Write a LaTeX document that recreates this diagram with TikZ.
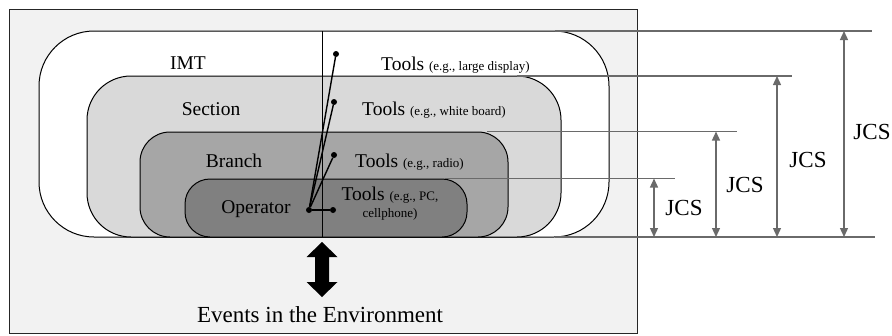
\documentclass[tikz,border=0pt]{standalone}
\usepackage{fontspec}
\setmainfont{Liberation Serif}
\usetikzlibrary{arrows.meta}
\definecolor{bgbox}{HTML}{F2F2F2}
\definecolor{secfill}{HTML}{D9D9D9}
\definecolor{brfill}{HTML}{A6A6A6}
\definecolor{opfill}{HTML}{808080}
\definecolor{dimgray}{HTML}{6A6A6A}
\newcommand{\smalltxt}[1]{{\fontsize{13}{15}\selectfont #1}}
\tikzset{
  layer/.style={draw=black, line width=1pt, inner sep=0pt, outer sep=0pt},
  lbl/.style={font=\fontsize{19.5}{23}\selectfont, inner sep=0pt},
  toollbl/.style={font=\fontsize{19.5}{23}\selectfont, inner sep=0pt, anchor=base west},
  biglbl/.style={font=\fontsize{23}{27}\selectfont, inner sep=0pt},
  dot/.style={circle, fill=black, inner sep=0pt, minimum size=6pt},
  tie/.style={line width=1.4pt, black},
  guide/.style={draw=dimgray, line width=1.3pt},
  jcsarrow/.style={draw=dimgray, line width=1.3pt, {Triangle[length=9pt,width=8pt]}-{Triangle[length=9pt,width=8pt]}, dimgray}
}
\begin{document}
\begin{tikzpicture}[x=1pt,y=-1pt]
\useasboundingbox (0,0) rectangle (892,335);
% outer environment box
\draw[fill=bgbox, draw=black!85, line width=1pt] (9,9.5) rectangle (637,333);
% nested layers
\node[layer, fill=white, rounded corners=55pt, minimum width=570pt, minimum height=206pt] (imt) at (324,134) {};
\node[layer, fill=secfill, rounded corners=44pt, minimum width=474pt, minimum height=161pt] (sec) at (324,156.5) {};
\node[layer, fill=brfill, rounded corners=30pt, minimum width=368pt, minimum height=105pt] (br) at (324,184.5) {};
\node[layer, fill=opfill, rounded corners=25pt, minimum width=282pt, minimum height=58pt] (op) at (326,208) {};
% vertical divider
\coordinate (vtop) at (322,31);
\coordinate (vbot) at (322,237);
\draw[black, line width=1pt] (vtop) -- (vbot);
% guide lines
\coordinate (g1a) at (555,31);  \coordinate (g1b) at (872,31);
\coordinate (g2a) at (517,76);  \coordinate (g2b) at (792,76);
\coordinate (g3a) at (487,131.5); \coordinate (g3b) at (737,131.5);
\coordinate (g4a) at (445,178.5); \coordinate (g4b) at (675,178.5);
\coordinate (g5a) at (555,237); \coordinate (g5b) at (875,237);
\draw[guide] (g1a) -- (g1b);
\draw[guide] (g2a) -- (g2b);
\draw[guide] (g3a) -- (g3b);
\draw[guide] (g4a) -- (g4b);
\draw[guide] (g5a) -- (g5b);
% JCS arrows
\coordinate (a4t) at (654,178.5); \coordinate (a4b) at (654,237);
\coordinate (a3t) at (716,131.5); \coordinate (a3b) at (716,237);
\coordinate (a2t) at (777,76);  \coordinate (a2b) at (777,237);
\coordinate (a1t) at (844,31);  \coordinate (a1b) at (844,237);
\draw[jcsarrow] (a4t) -- (a4b);
\draw[jcsarrow] (a3t) -- (a3b);
\draw[jcsarrow] (a2t) -- (a2b);
\draw[jcsarrow] (a1t) -- (a1b);
\node[biglbl] (jcs4) at (684,208) {JCS};
\node[biglbl] (jcs3) at (745,185) {JCS};
\node[biglbl] (jcs2) at (808,160) {JCS};
\node[biglbl] (jcs1) at (872,132) {JCS};
% operator and tool dots
\node[dot] (opdot) at (309,210) {};
\node[dot] (t1) at (336,54) {};
\node[dot] (t2) at (334,102) {};
\node[dot] (t3) at (334,155) {};
\node[dot] (t4) at (333,210) {};
\draw[tie] (opdot) -- (t1);
\draw[tie] (opdot) -- (t2);
\draw[tie] (opdot) -- (t3);
\draw[tie] (opdot) -- (t4);
% layer labels
\node[lbl] (imtlbl) at (188,63) {IMT};
\node[lbl] (seclbl) at (211,109) {Section};
\node[lbl] (brlbl) at (234,161) {Branch};
\node[lbl] (oplbl) at (256,209) {Operator};
% tool labels
\node[toollbl] (tl1) at (381,70) {Tools \smalltxt{(e.g., large display)}};
\node[toollbl] (tl2) at (362,115.5) {Tools \smalltxt{(e.g., white board)}};
\node[toollbl] (tl3) at (355,167.5) {Tools \smalltxt{(e.g., radio)}};
\node[inner sep=0pt, align=center, font=\fontsize{19.5}{19}\selectfont, anchor=north] (tl4) at (390,187) {Tools \smalltxt{(e.g., PC,}\\[-2pt]\smalltxt{cellphone)}};
% environment
\node[biglbl, anchor=base] (env) at (320,322) {Events in the Environment};
\coordinate (ea) at (322,242);
\fill[black] (ea) -- ++(15.5,15) -- ++(-8.5,0) -- ++(0,25) -- ++(8.5,0) -- ++(-15.5,15) -- ++(-15.5,-15) -- ++(8.5,0) -- ++(0,-25) -- ++(-8.5,0) -- cycle;
\end{tikzpicture}
\end{document}
